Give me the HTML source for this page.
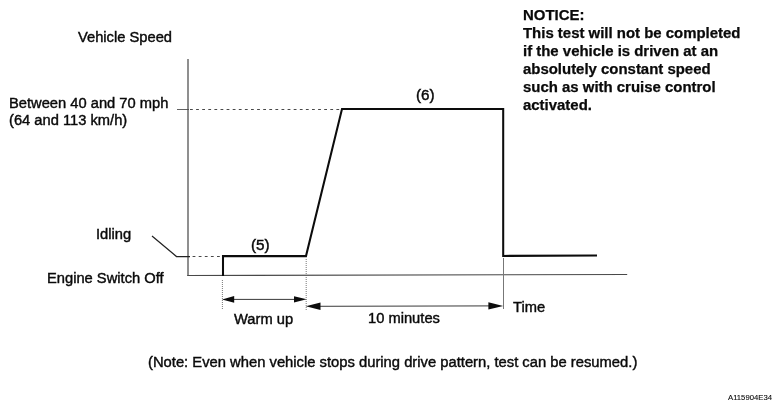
<!DOCTYPE html>
<html><head><meta charset="utf-8">
<style>
html,body{margin:0;padding:0;background:#fff;}
body{width:781px;height:411px;overflow:hidden;position:relative;font-family:"Liberation Sans",sans-serif;color:#111;}
svg{position:absolute;left:0;top:0;}
.t{position:absolute;white-space:nowrap;font-size:14px;line-height:17.4px;color:#0a0a0a;-webkit-text-stroke:0.4px #0a0a0a;transform:scaleX(1.05);transform-origin:0 0;will-change:transform;}
.b{font-weight:bold;line-height:17.9px;transform:scaleX(1.067);-webkit-text-stroke:0.25px #0a0a0a;}
</style></head><body>
<svg width="781" height="411" viewBox="0 0 781 411">
<g fill="none" stroke="#6a6a6a" stroke-width="1.5">
<path d="M188 59 V276"/>
</g>
<g fill="none" stroke="#484848" stroke-width="1.1">
<path d="M187.3 275.5 L627.2 274.5"/>
</g>
<g fill="none" stroke="#777" stroke-width="1">
<path d="M503.5 258 V309"/>
</g>
<g fill="none" stroke="#222" stroke-width="1">
<path d="M152 236.1 L176.5 256.5 H190" stroke-width="1.25"/>
<path d="M177 109.5 H189" stroke="#444" stroke-width="0.85"/>
</g>
<g fill="none" stroke="#333" stroke-width="0.9" stroke-dasharray="2.8 3.3">
<path d="M190 109.5 H340"/>
<path d="M192.6 256.5 H222"/>
</g>
<g fill="none" stroke="#555" stroke-width="0.8" stroke-dasharray="1 1">
<path d="M222.4 280 V310"/>
<path d="M306.2 259 V310"/>
</g>
<path d="M223 276 V256.1 H306 L342 108.9 H503.2 V255.9 L597 255.4" fill="none" stroke="#0c0c0c" stroke-width="2.05" stroke-linejoin="miter"/>
<g stroke="#222" stroke-width="0.9" fill="#0c0c0c">
<path d="M230 299.4 H298" />
<path d="M222 299.4 L234.2 296.1 V302.7 Z" stroke="none"/>
<path d="M306.7 299.3 L294 296.2 V302.4 Z" stroke="none"/>
<path d="M318 306.3 L492 305.9" />
<path d="M305.8 306.3 L320.5 302.5 V310.1 Z" stroke="none"/>
<path d="M503.2 305.9 L488.4 302.2 V309.6 Z" stroke="none"/>
</g>
</svg>
<div class="t" id="vs" style="left:78px;top:28.5px;">Vehicle Speed</div>
<div class="t" id="bt" style="left:8.6px;top:94.6px;">Between 40 and 70 mph<br>(64 and 113 km/h)</div>
<div class="t" id="idl" style="left:95.5px;top:225.5px;">Idling</div>
<div class="t" id="eso" style="left:47px;top:270px;">Engine Switch Off</div>
<div class="t" id="n5" style="left:250.6px;top:236.6px;transform:scaleX(1.09);">(5)</div>
<div class="t" id="n6" style="left:415.6px;top:86.8px;transform:scaleX(1.09);">(6)</div>
<div class="t" id="wu" style="left:234px;top:310.7px;">Warm up</div>
<div class="t" id="tm" style="left:368px;top:310px;">10 minutes</div>
<div class="t" id="time" style="left:512.5px;top:298.8px;">Time</div>
<div class="t" id="note" style="left:147.5px;top:353.5px;transform:scaleX(1.055);">(Note: Even when vehicle stops during drive pattern, test can be resumed.)</div>
<div class="t b" id="notice" style="left:523px;top:7px;">NOTICE:<br>This test will not be completed<br>if the vehicle is driven at an<br>absolutely constant speed<br>such as with cruise control<br>activated.</div>
<div class="t" id="code" style="left:728px;top:394.2px;font-size:7.1px;line-height:9px;transform:scaleX(1.085);-webkit-text-stroke:0.1px #0a0a0a;">A115904E34</div>
</body></html>
